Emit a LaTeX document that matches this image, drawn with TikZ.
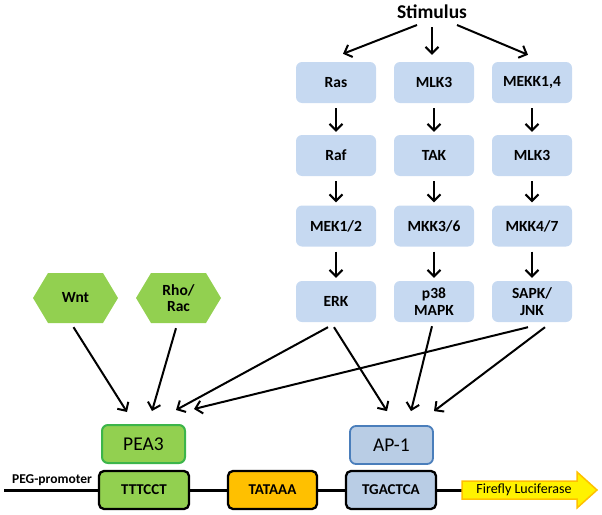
\documentclass[tikz,border=0pt]{standalone}
\usepackage{fontspec}
\setmainfont{Carlito}
\usetikzlibrary{arrows.meta,calc,shapes.symbols}
\definecolor{kblue}{HTML}{C6D9F1}
\definecolor{kgreen}{HTML}{92D050}
\definecolor{kgreenborder}{HTML}{3CB54A}
\definecolor{kap}{HTML}{B9CDE5}
\definecolor{kapborder}{HTML}{4A7EBB}
\definecolor{korange}{HTML}{FFC000}
\definecolor{kyellow}{HTML}{FFF200}
\tikzset{
  kinase/.style={rectangle, rounded corners=6pt, fill=kblue, minimum width=80pt, minimum height=41pt,
    inner sep=1pt, align=center, font=\fontsize{15.5}{16.5}\selectfont\bfseries},
  hexa/.style={signal, signal to=east and west, signal pointer angle=118, fill=kgreen,
    minimum width=85pt, minimum height=50pt, inner sep=1pt, align=center,
    font=\fontsize{15.5}{16.5}\selectfont\bfseries},
  tfbox/.style={rectangle, rounded corners=6pt, minimum width=83pt, minimum height=38pt,
    line width=2pt, font=\fontsize{19.5}{20}\selectfont},
  dnabox/.style={rectangle, rounded corners=5pt, draw=black, line width=2.3pt,
    minimum width=89pt, minimum height=38pt, font=\fontsize{15}{16}\selectfont\bfseries},
  arr/.style={line width=2pt, -{Straight Barb[length=6.5pt,width=13pt,line width=2pt]}},
  dna/.style={line width=3pt}
}
\begin{document}
\begin{tikzpicture}[x=1pt,y=-1pt]
\useasboundingbox (0,0) rectangle (602,514);

\node[font=\fontsize{19.5}{20}\selectfont\bfseries] (stim) at (432,12) {Stimulus};

% kinase columns
\node[kinase] (ras)  at (336,82.5) {Ras};
\node[kinase] (mlka) at (434,82.5) {MLK3};
\node[kinase] (mekk) at (532,82.5) {MEKK1,4};
\node[kinase] (raf)  at (336,155.5) {Raf};
\node[kinase] (tak)  at (434,155.5) {TAK};
\node[kinase] (mlkb) at (532,155.5) {MLK3};
\node[kinase] (mek)  at (336,226) {MEK1/2};
\node[kinase] (mkka) at (434,226) {MKK3/6};
\node[kinase] (mkkb) at (532,226) {MKK4/7};
\node[kinase] (erk)  at (336,301.5) {ERK};
\node[kinase] (p38)  at (434,301.5) {p38\\MAPK};
\node[kinase] (sapk) at (532,301.5) {SAPK/\\JNK};

% hexagons
\node[hexa] (wnt) at (75.5,298) {Wnt};
\node[hexa] (rho) at (178.5,298) {Rho/\\Rac};

% transcription factors
\node[tfbox, fill=kgreen, draw=kgreenborder] (pea) at (143.5,444) {PEA3};
\node[tfbox, fill=kap, draw=kapborder, line width=1.8pt] (ap) at (391.5,445) {AP-1};

% DNA
\node[font=\fontsize{13.5}{14}\selectfont\bfseries] (peg) at (52,480) {PEG-promoter};
\coordinate (dnastart) at (4,490);
\node[dnabox, fill=kgreen, minimum width=90pt] (ttt) at (144,490) {TTTCCT};
\node[dnabox, fill=korange] (tata) at (272.5,490) {TATAAA};
\node[dnabox, fill=kap, minimum width=90pt] (tga) at (391,490) {TGACTCA};
\coordinate (lucstart) at (462,490);
\draw[dna] (dnastart) -- (ttt.west);
\draw[dna] (ttt.east) -- (tata.west);
\draw[dna] (tata.east) -- (tga.west);
\draw[dna] (tga.east) -- (lucstart);
\draw[fill=kyellow, draw=korange, line width=1.5pt, line join=miter]
  (462,481) -- (577,481) -- (577,472) -- (597,490) -- (577,508) -- (577,499) -- (462,499) -- cycle;
\node[font=\fontsize{14}{15}\selectfont] (luc) at (524,489.5) {Firefly Luciferase};

% stimulus arrows
\draw[arr] ($(stim)+(-15,13)$) -- ($(ras.north)+(7,-8)$);
\draw[arr] ($(stim)+(0,15)$) -- ($(mlka.north)+(-2,-7)$);
\draw[arr] ($(stim)+(25,13)$) -- ($(mekk.north)+(-4,-7)$);

% vertical arrows
\foreach \a/\b in {ras/raf,raf/mek,mek/erk,mlka/tak,tak/mkka,mkka/p38,mekk/mlkb,mlkb/mkkb,mkkb/sapk}{
  \draw[arr, shorten <=5pt, shorten >=3pt] (\a.south) -- (\b.north);
}

% to PEA3 / AP-1
\draw[arr] ($(wnt.south)+(-2,4)$) -- ($(pea.north)+(-16.5,-12)$);
\draw[arr] ($(rho.south)+(-2.5,5)$) -- ($(pea.north)+(8.5,-13)$);
\draw[arr] ($(erk.south)+(-8,5)$) -- ($(pea.north)+(32.5,-14)$);
\draw[arr] ($(sapk.south)+(-4,5)$) -- ($(pea.north)+(50.5,-15)$);
\draw[arr] ($(erk.south)+(-2,5)$) -- ($(ap.north)+(-4.5,-14)$);
\draw[arr] ($(p38.south)+(-2,4)$) -- ($(ap.north)+(19.5,-14)$);
\draw[arr] ($(sapk.south)+(13,5)$) -- ($(ap.north)+(42.5,-14)$);
\end{tikzpicture}
\end{document}
